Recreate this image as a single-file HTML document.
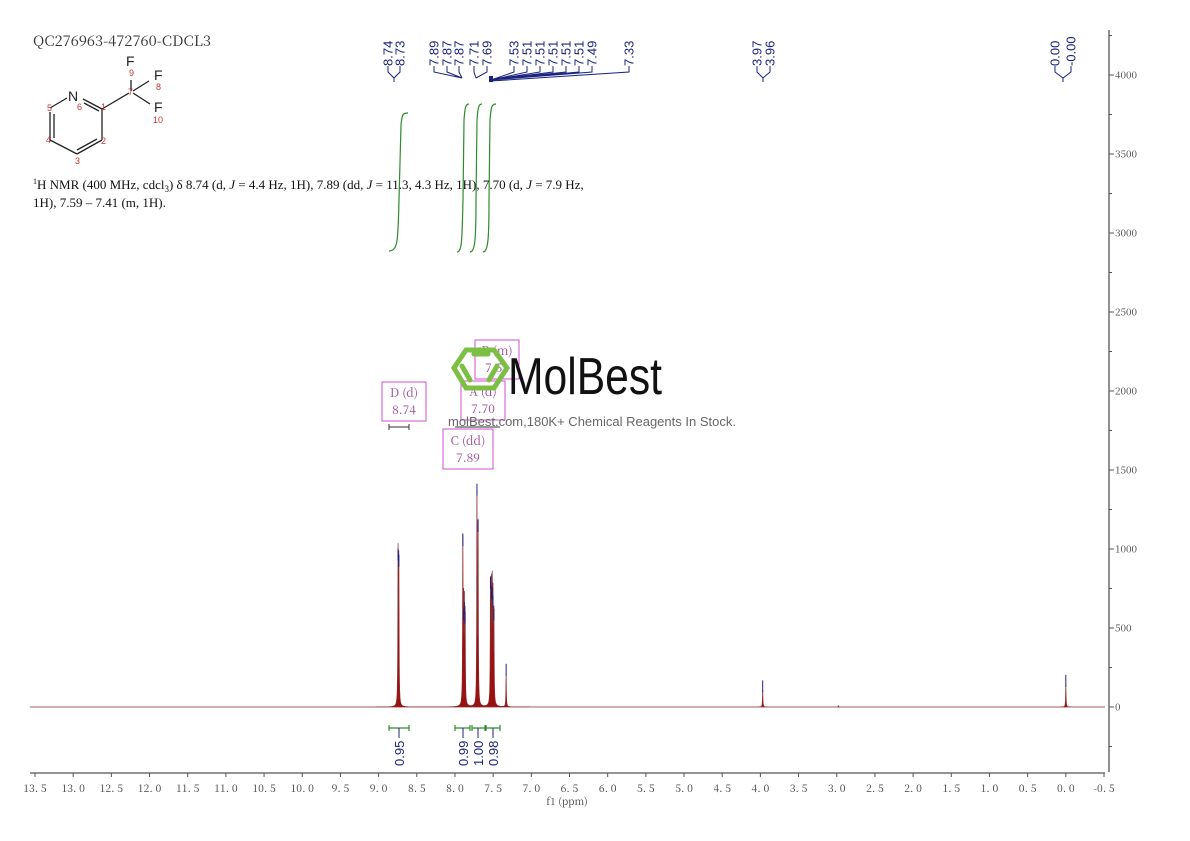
<!DOCTYPE html>
<html><head><meta charset="utf-8"><style>
html,body{margin:0;padding:0;background:#fff;width:1190px;height:841px;overflow:hidden}
svg{display:block}
.ser{font-family:"Liberation Serif","Noto Serif CJK SC",serif}
.cjk{font-family:"Noto Serif CJK SC","Liberation Serif",serif}
.san{font-family:"Liberation Sans",sans-serif}
</style></head><body>
<svg id="s" width="1190" height="841" viewBox="0 0 1190 841" xmlns="http://www.w3.org/2000/svg">
<text x="33" y="46" class="cjk" font-size="14.5" fill="#333" textLength="178" lengthAdjust="spacingAndGlyphs">QC276963-472760-CDCL3</text>
<g stroke="#222" stroke-width="1.3" fill="none">
<line x1="83" y1="99" x2="102" y2="109"/><line x1="84" y1="103" x2="99" y2="111"/>
<line x1="102" y1="109" x2="102" y2="140"/>
<line x1="102" y1="140" x2="77" y2="154"/><line x1="97" y1="139" x2="77" y2="150"/>
<line x1="77" y1="154" x2="50" y2="140"/>
<line x1="50" y1="140" x2="50" y2="112"/><line x1="54" y1="138" x2="54" y2="114"/>
<line x1="50" y1="108" x2="67" y2="98"/>
<line x1="102" y1="109" x2="129" y2="93"/>
<line x1="131" y1="80" x2="131" y2="91"/><line x1="133" y1="91" x2="149" y2="81"/><line x1="133" y1="93" x2="150" y2="104"/>
</g>
<g class="san" font-size="14" fill="#222"><text x="68" y="101">N</text><text x="126" y="66">F</text><text x="154" y="80">F</text><text x="154" y="112">F</text></g>
<g class="san" font-size="9" fill="#c0392b"><text x="77" y="110">6</text><text x="101" y="110">1</text><text x="101" y="144">2</text><text x="75" y="164">3</text><text x="46" y="143">4</text><text x="47" y="111">5</text><text x="128" y="95">7</text><text x="129" y="76">9</text><text x="156" y="90">8</text><text x="153" y="123">10</text></g>
<text x="33" y="189" class="ser" font-size="13" fill="#111"><tspan font-size="8" dy="-5">1</tspan><tspan dy="5">H NMR (400 MHz, cdcl</tspan><tspan font-size="9" dy="3">3</tspan><tspan dy="-3">) δ 8.74 (d, <tspan font-style="italic">J</tspan> = 4.4 Hz, 1H), 7.89 (dd, <tspan font-style="italic">J</tspan> = 11.3, 4.3 Hz, 1H), 7.70 (d, <tspan font-style="italic">J</tspan> = 7.9 Hz,</tspan></text>
<text x="33" y="207" class="ser" font-size="13" fill="#111">1H), 7.59 – 7.41 (m, 1H).</text>
<g stroke="#2e8b2e" stroke-width="1.2" fill="none">
<path d="M389,251 C398,251 398,240 399,200 L401,125 C402,114 403,113 408,113"/>
<path d="M457,252 C462,252 462,240 463,200 L464,120 C465,106 466,104 469,104"/>
<path d="M470,252 C475,252 476,240 476,200 L477,120 C478,106 479,104 482,104"/>
<path d="M483,252 C488,252 489,240 489,200 L490,120 C491,106 492,104 496,104"/>
</g>
<g stroke="#555" stroke-width="1.3"><line x1="1109" y1="30" x2="1109" y2="772"/></g>
<g id="yt" class="cjk" font-size="10" fill="#444"></g>
<line x1="30" y1="773" x2="1105" y2="773" stroke="#555" stroke-width="1.3"/>
<g id="xt" class="cjk" font-size="10.5" fill="#444"></g>
<text x="567" y="805" class="cjk" font-size="10" fill="#444" text-anchor="middle">f1 (ppm)</text>
<path id="sp" fill="#9b1010" stroke="#8b2a2a" stroke-width="0.7"/>
<g id="tops" stroke="#1a237e" stroke-width="1"></g>
<g id="pl" class="san" font-size="13" fill="#1a237e"></g>
<g stroke="#1a237e" stroke-width="1" fill="none">
<path d="M388,66 L388,72 L394,78 L400,72 L400,66 M394,78 L394,82"/>
<path d="M434,66 L434,72 L462,78 M447,66 L447,72 L462,78 M459,66 L459,72 L462,78"/>
<path d="M474,66 L474,72 L476,78 M487,66 L487,72 L476,78"/>
<path d="M514,66 L514,72 L491,80 M527,66 L527,72 L491,80 M540,66 L540,72 L491,80 M553,66 L553,72 L491,80 M566,66 L566,72 L491,80 M579,66 L579,72 L491,80 M592,66 L592,72 L491,80 M629,66 L629,72 L491,81"/>
<path d="M757,66 L757,72 L763,78 L770,72 L770,66 M763,78 L763,82"/>
<path d="M1055,66 L1055,72 L1063,78 L1071,72 L1071,66 M1063,78 L1063,82"/>
</g>
<rect x="489" y="76" width="4" height="6" fill="#1a237e"/>
<g stroke="#2e8b2e" stroke-width="1.2" fill="none">
<path d="M389,728 L409,728 M389,725 L389,731 M409,725 L409,731"/>
<path d="M455,728 L470,728 M455,725 L455,731 M470,725 L470,731"/>
<path d="M472,728 L485,728 M472,725 L472,731 M485,725 L485,731"/>
<path d="M486,728 L500,728 M486,725 L486,731 M500,725 L500,731"/>
</g>
<g stroke="#1a237e" stroke-width="1"><line x1="399" y1="728" x2="399" y2="738"/><line x1="463" y1="728" x2="463" y2="738"/><line x1="478" y1="728" x2="478" y2="738"/><line x1="493" y1="728" x2="493" y2="738"/></g>
<g class="san" font-size="13" fill="#1a237e">
<text transform="translate(404,766) rotate(-90)">0.95</text>
<text transform="translate(468,766) rotate(-90)">0.99</text>
<text transform="translate(483,766) rotate(-90)">1.00</text>
<text transform="translate(498,766) rotate(-90)">0.98</text>
</g>
<g fill="none" stroke="#d24fd2" stroke-width="1">
<rect x="382" y="382" width="44" height="39"/><rect x="461" y="381" width="44" height="39"/>
<rect x="475" y="340" width="44" height="39"/><rect x="443" y="429" width="50" height="40"/>
</g>
<g class="cjk" font-size="12" fill="#9a4a9a" text-anchor="middle">
<text x="404" y="397">D (d)</text><text x="404" y="414">8.74</text>
<text x="483" y="396">A (d)</text><text x="483" y="413">7.70</text>
<text x="497" y="355">B (m)</text><text x="497" y="372">7.51</text>
<text x="468" y="445">C (dd)</text><text x="468" y="462">7.89</text>
</g>
<g stroke="#333" stroke-width="1"><path d="M389,427 L409,427 M389,424 L389,430 M409,424 L409,430 M455,427 L500,427"/></g>
<g stroke="#7bc043" stroke-width="5" fill="none" stroke-linecap="round">
<polygon points="466,350 494,350 507,368 494,388 466,388 454,368"/>
<line x1="474" y1="354" x2="488" y2="354"/><line x1="462" y1="366" x2="470" y2="380"/><line x1="497" y1="366" x2="489" y2="380"/>
</g>
<text x="508" y="394" class="san" font-size="52" fill="#111" textLength="154" lengthAdjust="spacingAndGlyphs">MolBest</text>
<text x="448" y="426" class="san" font-size="13" fill="#666">molBest.com,180K+ Chemical Reagents In Stock.</text>
</svg>
<script>
function X(p){return 35+(13.5-p)*76.357;}
function Y(v){return 707-v*0.158;}
var yt=document.getElementById('yt'),s="";
for(var v=-250;v<=4250;v+=250){var y=Y(v);var big=v%500==0;
s+='<line x1="1109" y1="'+y+'" x2="'+(1109+(big?5:3))+'" y2="'+y+'" stroke="#555"/>';
if(big)s+='<text x="1115" y="'+(y+3.5)+'">'+v+'</text>';}
yt.innerHTML=s;
var xt=document.getElementById('xt');s="";
for(var i=0;i<=28;i++){var p=13.5-i*0.5;var x=X(p);
s+='<line x1="'+x+'" y1="773" x2="'+x+'" y2="777" stroke="#555"/>';
s+='<text x="'+x+'" y="792" text-anchor="middle">'+p.toFixed(1).replace('.','. ')+'</text>';}
xt.innerHTML=s;
var pk=[[8.745,940],[8.735,900],[7.897,1030],[7.887,560],[7.877,600],[7.867,540],[7.712,1350],[7.697,1120],[7.535,760],[7.522,700],[7.512,690],[7.502,640],[7.49,560],[7.33,210],[3.97,105],[0.0,140],[2.98,8]];
var w=0.0035,pts=[];
for(var x=30;x<=1105;x+=0.1){var p=13.5-(x-35)/76.357,v=0;
for(var k=0;k<pk.length;k++){var d=(p-pk[k][0])/w;v+=pk[k][1]/(1+d*d);}
pts.push(x.toFixed(1)+','+Y(v).toFixed(1));}
document.getElementById('sp').setAttribute('d','M'+pts.join(' L')+' L1105,707 L30,707 Z');
var t="";pk.forEach(function(q){if(q[1]>50){var x=X(q[0]),y=Y(q[1]);t+='<line x1="'+x+'" y1="'+(y-10)+'" x2="'+x+'" y2="'+(y+2)+'"/>';}});
document.getElementById('tops').innerHTML=t;
var labs=[[388,"8.74"],[400,"8.73"],[434,"7.89"],[447,"7.87"],[459,"7.87"],[474,"7.71"],[487,"7.69"],[514,"7.53"],[527,"7.51"],[540,"7.51"],[553,"7.51"],[566,"7.51"],[579,"7.51"],[592,"7.49"],[629,"7.33"],[757,"3.97"],[770,"3.96"],[1055,"0.00"],[1071,"-0.00"]];
s="";labs.forEach(function(l){s+='<text transform="translate('+(l[0]+4.5)+',66) rotate(-90)">'+l[1]+'</text>';});
document.getElementById('pl').innerHTML=s;
</script>
</body></html>
